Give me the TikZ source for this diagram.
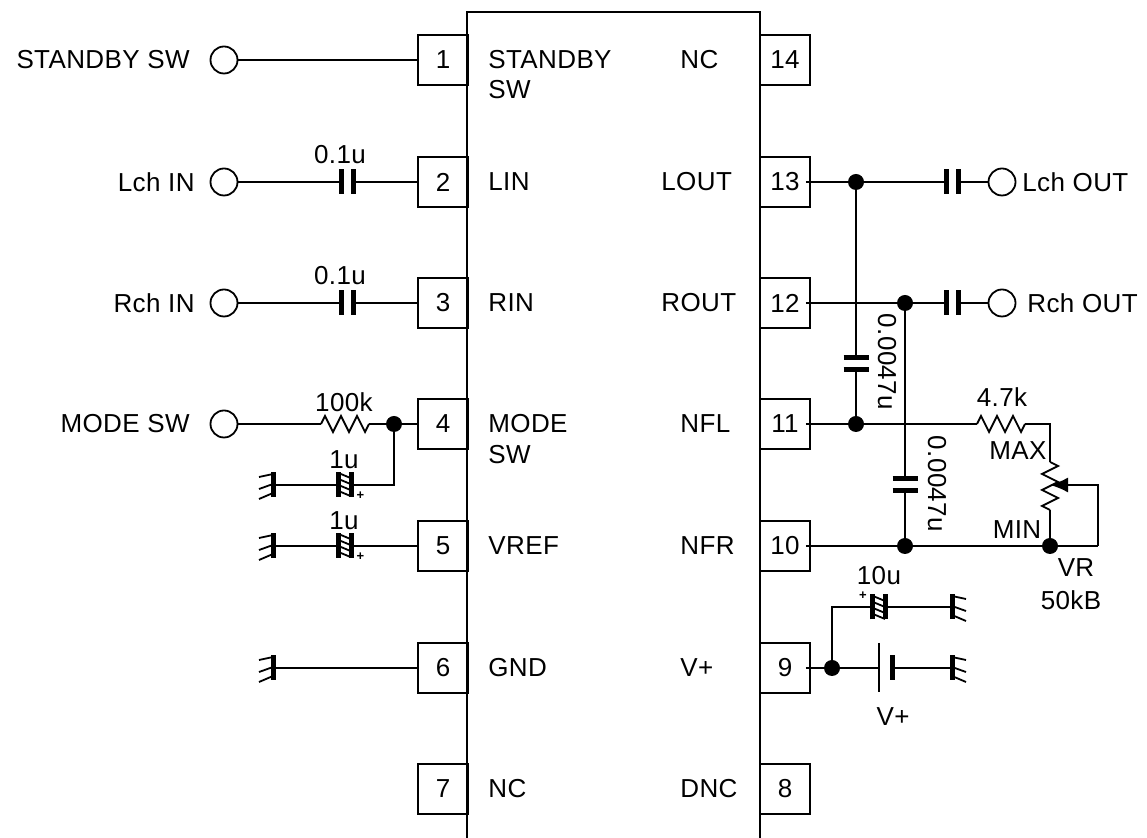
\documentclass[tikz,border=0pt]{standalone}
\usepackage{fontspec}
\setmainfont[LetterSpace=1.5]{Liberation Sans}
\usetikzlibrary{arrows.meta}
\usetikzlibrary{positioning}

\tikzset{
	wire/.style={line width=0.9pt},
	pinbox/.style={draw,line width=0.9pt,minimum width=25pt,minimum height=25pt,inner sep=0pt},
	terminal/.style={draw,circle,line width=0.9pt,minimum size=13.5pt,inner sep=0pt},
	junction/.style={fill,circle,minimum size=8pt,inner sep=0pt},
	lbl/.style={inner sep=0pt},
	pics/capx/.style={code={
		\draw[line width=2.5pt] (-6,-12.5) -- (-6,12.5);
		\draw[line width=2.5pt] (6,-12.5) -- (6,12.5);
		\coordinate (a) at (-6,0);
		\coordinate (b) at (6,0);
	}},
	pics/ecap/.style={code={
		\draw[line width=2.5pt] (-6.5,-12.5) -- (-6.5,12.5);
		\draw[line width=2.5pt] (6.5,-12.5) -- (6.5,12.5);
		\foreach \s in {-12,-6,0,6}
			\draw[line width=0.9pt] (-6,\s) -- (6,\s+5);
		\node[inner sep=0pt,font=\fontsize{6.5}{6.5}\selectfont\bfseries] (plus) at (16,11) {+};
		\coordinate (a) at (-6.5,0);
		\coordinate (b) at (6.5,0);
	}},
	pics/gnd/.style={code={
		\draw[line width=2.5pt] (0,-12.5) -- (0,12.5);
		\draw[line width=0.9pt] (0,-11) -- (14,-8);
		\draw[line width=0.9pt] (0,-1) -- (14,4);
		\draw[line width=0.9pt] (0,8) -- (14,14);
		\coordinate (a) at (0,0);
	}},
	pics/res/.style={code={
		\draw[wire] (-24,0) -- (-20,-8) -- (-12,8) -- (-4,-8) -- (4,8) -- (12,-8) -- (20,8) -- (24,0);
		\coordinate (a) at (-24,0);
		\coordinate (b) at (24,0);
	}},
}

\begin{document}
\begin{tikzpicture}[x=0.5pt,y=-0.5pt,font=\fontsize{13}{15}\selectfont]

	\useasboundingbox (0,0) rectangle (1147,838);

	% IC body
	\draw[wire] (467,838) -- (467,12) -- (760,12) -- (760,838);

	% pins
	\foreach \n/\y in {1/60,2/182,3/303,4/424,5/546,6/668,7/789}
		\node[pinbox] (p\n) at (443,\y) {\n};
	\foreach \n/\y in {14/60,13/182,12/303,11/424,10/546,9/668,8/789}
		\node[pinbox] (p\n) at (785,\y) {\n};

	% pin names
	\foreach \t/\y in {STANDBY/60,SW/90,LIN/182,RIN/303,MODE/424,SW/455,VREF/546,GND/668,NC/789}
		\node[lbl,anchor=west] at (488,\y) {\t};
	\foreach \t/\x/\y in {NC/680/60,LOUT/661/182,ROUT/661/303,NFL/680/424,NFR/680/546,V+/680/668,DNC/680/789}
		\node[lbl,anchor=west] at (\x,\y) {\t};

	% left side
	\node[terminal] (t1) at (224,60) {};
	\node[terminal] (t2) at (224,182) {};
	\node[terminal] (t3) at (224,303) {};
	\node[terminal] (t4) at (224,424) {};
	\node[lbl,anchor=east] (l1) at (190,60) {STANDBY SW};
	\node[lbl,anchor=east] (l2) at (195,182) {Lch IN};
	\node[lbl,anchor=east] (l3) at (195,303) {Rch IN};
	\node[lbl,anchor=east] (l4) at (190,424) {MODE SW};

	\pic (c2) at (347,182) {capx};
	\pic (c3) at (347,303) {capx};
	\pic (r4) at (345,424) {res};
	\node[junction] (j4) at (394,424) {};
	\pic (e4) at (344.5,485) {ecap};
	\pic (e5) at (344.5,546) {ecap};
	\pic[xscale=-1] (g4) at (273,485) {gnd};
	\pic[xscale=-1] (g5) at (273,546) {gnd};
	\pic[xscale=-1] (g6) at (273,668) {gnd};
	\node[lbl] (v2) at (340,155) {0.1u};
	\node[lbl] (v3) at (340,276) {0.1u};
	\node[lbl] (v4) at (344,402) {100k};
	\node[lbl] (v5) at (344,460) {1u};
	\node[lbl] (v6) at (344,521) {1u};

	\draw[wire] (t1) -- (p1);
	\draw[wire] (t2) -- (c2a) (c2b) -- (p2);
	\draw[wire] (t3) -- (c3a) (c3b) -- (p3);
	\draw[wire] (t4) -- (r4a) (r4b) -- (j4) -- (p4);
	\draw[wire] (g4a) -- (e4a) (e4b) -| (j4);
	\draw[wire] (g5a) -- (e5a) (e5b) -- (p5);
	\draw[wire] (g6a) -- (p6);

	% right side
	\node[junction] (j13) at (856,182) {};
	\node[junction] (j12) at (905,303) {};
	\node[junction] (j11) at (856,424) {};
	\node[junction] (j10) at (905,546) {};
	\node[junction] (jm) at (1050,546) {};
	\node[junction] (j9) at (832,668) {};
	\node[terminal] (t13) at (1002,182) {};
	\node[terminal] (t12) at (1002,303) {};
	\node[lbl,anchor=west] (l13) at (1022,182) {Lch OUT};
	\node[lbl,anchor=west] (l12) at (1027,303) {Rch OUT};

	\pic (c13) at (952,182) {capx};
	\pic (c12) at (952,303) {capx};
	\pic[rotate=90] (c11) at (856,364) {capx};
	\pic[rotate=90] (c10) at (905,485) {capx};
	\pic (r11) at (1001,424) {res};
	\pic[rotate=90] (vr) at (1050,486) {res};
	\pic[rotate=180] (e9) at (879,607) {ecap};
	\pic (g9a) at (952,607) {gnd};
	\pic (g9b) at (952,668) {gnd};
	\coordinate (rc) at (1050,424);
	\coordinate (wc) at (1098,546);
	\coordinate (wt) at (1050,485);
	\coordinate (bn) at (879,668);
	\coordinate (bp) at (892,668);

	\draw[wire] ([xshift=-2.5pt]p13.east) -- (j13) -- (c13a) (c13b) -- (t13);
	\draw[wire] ([xshift=-2.5pt]p12.east) -- (j12) -- (c12a) (c12b) -- (t12);
	\draw[wire] ([xshift=-2.5pt]p11.east) -- (j11) -- (r11a) (r11b) -- (rc) -- (vrb);
	\draw[wire] ([xshift=-2.5pt]p10.east) -- (j10) -- (jm) -- (wc);
	\draw[wire] (vra) -- (jm);
	\draw[wire,-{Latex[length=9pt,width=7.5pt]}] (wc) |- (wt);
	\draw[wire] (j13) -- (c11b) (c11a) -- (j11);
	\draw[wire] (j12) -- (c10b) (c10a) -- (j10);
	\draw[wire] ([xshift=-2.5pt]p9.east) -- (j9) -- (bn);
	\draw[wire] (j9) |- (e9b);
	\draw[wire] (e9a) -- (g9aa);
	\draw[wire] (bp) -- (g9ba);
	\draw[wire] (879,643) -- (879,692);
	\draw[line width=2.5pt] (892,655.5) -- (892,680.5);

	\node[lbl] (v13) at (1002,397) {4.7k};
	\node[lbl] (vmax) at (1018,451) {MAX};
	\node[lbl] (vmin) at (1017,530) {MIN};
	\node[lbl] (vvr) at (1076,568) {VR};
	\node[lbl] (vkb) at (1071,600) {50kB};
	\node[lbl,rotate=-90] (vc1) at (887,362) {0.0047u};
	\node[lbl,rotate=-90] (vc2) at (937,484) {0.0047u};
	\node[lbl] (v10) at (879,576) {10u};
	\node[lbl] (vp) at (893,717) {V+};

\end{tikzpicture}
\end{document}
